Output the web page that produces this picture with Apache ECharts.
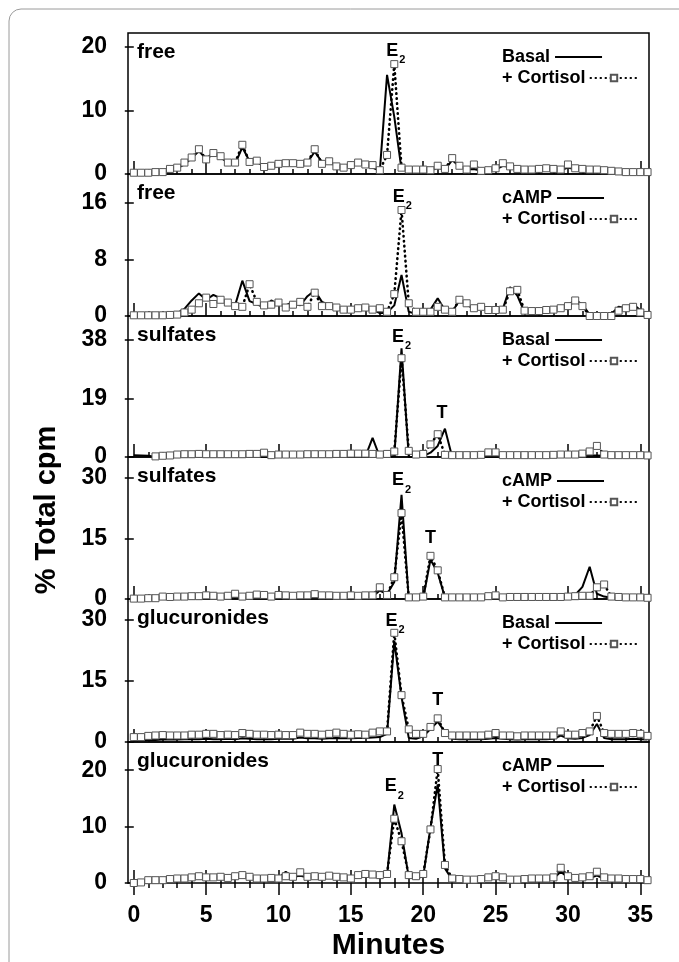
<!DOCTYPE html>
<html>
<head>
<meta charset="utf-8">
<title>Total cpm profiles</title>
<script src="https://cdn.jsdelivr.net/npm/echarts@6/dist/echarts.min.js"></script>
<style>
  html, body { margin: 0; padding: 0; background: #fff; }
  #main { width: 679px; height: 962px; }
</style>
</head>
<body>
<div id="main"></div>
<script type="text/javascript">
// fraction time (min), one sample every half minute
var minutes = [0, 0.5, 1, 1.5, 2, 2.5, 3, 3.5, 4, 4.5, 5, 5.5, 6, 6.5, 7, 7.5, 8, 8.5, 9, 9.5,
  10, 10.5, 11, 11.5, 12, 12.5, 13, 13.5, 14, 14.5, 15, 15.5, 16, 16.5, 17, 17.5, 18, 18.5, 19, 19.5,
  20, 20.5, 21, 21.5, 22, 22.5, 23, 23.5, 24, 24.5, 25, 25.5, 26, 26.5, 27, 27.5, 28, 28.5, 29, 29.5,
  30, 30.5, 31, 31.5, 32, 32.5, 33, 33.5, 34, 34.5, 35, 35.5];

// free - Basal / + Cortisol
var freeBasal = [0, 0, 0, 0.1, 0.2, 0.5, 0.9, 1.5, 2.5, 3.6,
  2.4, 3.3, 2.6, 1.8, 1.6, 4.2, 2.0, 1.9, 1.2, 1.4,
  1.5, 1.5, 1.6, 1.6, 1.8, 3.5, 1.9, 1.8, 1.3, 1.1,
  1.5, 1.6, 1.3, 1.0, 0.5, 15.6, 9.0, 0.7, 0.6, 0.5,
  0.6, 0.5, 1.0, 0.7, 2.2, 1.2, 0.7, 0.8, 0.5, 0.4,
  0.7, 1.3, 1.1, 0.8, 0.6, 0.6, 0.7, 0.8, 0.7, 0.6,
  1.0, 0.8, 0.7, 0.6, 0.6, 0.5, 0.4, 0.3, 0.3, 0.2,
  0.2, 0.2];
var freeBasalCort = [0.2, 0.2, 0.2, 0.3, 0.3, 0.8, 1.0, 1.8, 2.6, 3.9,
  2.3, 3.3, 2.8, 1.8, 1.8, 4.6, 1.9, 2.1, 1.1, 1.3,
  1.6, 1.7, 1.7, 1.6, 1.8, 3.9, 1.6, 2.0, 1.2, 1.0,
  1.4, 1.8, 1.5, 1.4, 0.6, 3.0, 17.3, 1.0, 0.7, 0.7,
  0.7, 0.6, 1.3, 0.8, 2.5, 1.3, 0.7, 1.5, 0.5, 0.6,
  0.9, 1.7, 1.2, 0.8, 0.7, 0.7, 0.8, 0.9, 0.8, 0.7,
  1.5, 0.9, 0.8, 0.7, 0.7, 0.6, 0.5, 0.4, 0.3, 0.3,
  0.3, 0.3];

// free - cAMP / + Cortisol
var freeCamp = [0, 0, 0, 0, 0, 0.1, 0.4, 1.0, 2.2, 3.2,
  2.3, 3.0, 2.5, 2.0, 1.5, 5.0, 2.1, 1.7, 1.2, 2.2,
  1.6, 1.5, 2.0, 1.5, 2.8, 3.6, 2.0, 1.6, 1.3, 1.1,
  1.0, 1.0, 1.0, 0.9, 0.4, 0.5, 1.5, 5.8, 0.6, 0.3,
  0.3, 0.9, 2.5, 0.8, 0.6, 2.2, 1.6, 1.0, 1.2, 0.8,
  0.7, 1.0, 4.1, 2.9, 0.5, 0.3, 0.4, 0.6, 0.8, 1.1,
  1.5, 2.3, 1.6, 0.2, 0, 0, 0.3, 1.3, 1.1, 1.7,
  0.8, 0.1];
var freeCampCort = [0.1, 0.1, 0.1, 0.1, 0.1, 0.15, 0.2, 0.5, 0.9, 1.8,
  2.6, 1.7, 2.3, 1.9, 1.4, 1.3, 4.5, 2.0, 1.5, 1.6,
  1.9, 1.2, 1.6, 2.0, 1.3, 3.3, 1.4, 1.4, 1.2, 0.9,
  0.9, 1.1, 1.2, 0.9, 1.1, 0.6, 3.1, 15.0, 1.8, 0.6,
  0.6, 0.6, 1.3, 0.9, 0.6, 2.3, 1.8, 1.1, 1.3, 0.85,
  0.85, 0.9, 3.5, 3.7, 0.75, 0.7, 0.7, 0.85, 0.9, 1.1,
  1.4, 2.2, 1.4, 0, 0, 0, 0, 0.75, 1.1, 1.3,
  0.5, 0.15];

// sulfates - Basal / + Cortisol
var sulfBasal = [0.6, 0.5, 0.4, 0.0, 0.0, 0.0, 0.1, 0.1, 0.1, 0.1,
  0.1, 0.1, 0.1, 0.1, 0.1, 0.1, 0.1, 0.1, 0.2, 0.1,
  0.1, 0.1, 0.1, 0.1, 0.1, 0.1, 0.1, 0.1, 0.1, 0.1,
  0.1, 0.1, 0.1, 6.2, 0.0, 0.0, 0.3, 35.3, 0.0, 0.0,
  0.3, 1.4, 3.6, 9.2, 0.0, 0.1, 0.1, 0.1, 0.1, 0.2,
  0.2, 0.1, 0.1, 0.1, 0.1, 0.1, 0.1, 0.1, 0.1, 0.2,
  0.3, 0.3, 0.3, 0.5, 0.5, 0.4, 0.2, 0.1, 0.1, 0.1,
  0.1, 0.1];
var sulfBasalCort = [null, null, null, 0.2, 0.4, 0.5, 0.8, 0.9, 0.9, 1.0,
  0.9, 0.9, 0.9, 0.9, 0.9, 0.9, 1.0, 1.0, 1.4, 0.6,
  0.8, 0.8, 0.8, 0.8, 0.9, 0.9, 0.9, 0.9, 1.0, 1.0,
  1.1, 1.1, 1.1, 1.0, 0.8, 1.0, 1.8, 32.1, 2.0, 0.8,
  1.0, 4.1, 7.4, 0.7, 0.6, 0.6, 0.6, 0.6, 0.7, 1.5,
  1.5, 0.6, 0.6, 0.6, 0.6, 0.6, 0.6, 0.6, 0.7, 0.8,
  0.8, 0.8, 1.1, 1.8, 3.6, 0.8, 0.6, 0.6, 0.6, 0.6,
  0.6, 0.5];

// sulfates - cAMP / + Cortisol
var sulfCamp = [0.1, 0.1, 0.1, 0.2, 0.3, 0.3, 0.3, 0.3, 0.4, 0.4,
  0.4, 0.4, 0.4, 0.4, 0.5, 0.4, 0.4, 0.5, 0.5, 0.4,
  0.4, 0.4, 0.4, 0.4, 0.4, 0.5, 0.5, 0.5, 0.5, 0.5,
  0.5, 0.5, 0.5, 0.6, 2.1, 1.2, 4.2, 25.8, 0.0, 0.0,
  0.2, 9.8, 6.5, 0.4, 0.2, 0.2, 0.2, 0.2, 0.2, 0.3,
  0.4, 0.3, 0.3, 0.3, 0.3, 0.3, 0.3, 0.3, 0.3, 0.3,
  0.4, 1.0, 3.0, 8.0, 1.3, 0.6, 0.3, 0.3, 0.3, 0.3,
  0.3, 0.2];
var sulfCampCort = [0.1, 0.1, 0.2, 0.2, 0.6, 0.5, 0.6, 0.6, 0.7, 0.7,
  0.9, 0.8, 0.6, 0.8, 1.3, 0.6, 0.8, 1.1, 1.0, 0.6,
  1.0, 0.9, 0.8, 0.9, 0.9, 1.2, 0.9, 0.9, 0.8, 0.8,
  0.9, 0.8, 0.9, 0.9, 2.9, 1.0, 5.4, 21.3, 0.4, 0.4,
  0.6, 10.7, 7.1, 0.4, 0.4, 0.4, 0.4, 0.4, 0.4, 0.7,
  0.9, 0.4, 0.5, 0.5, 0.5, 0.5, 0.5, 0.5, 0.5, 0.5,
  0.6, 0.7, 0.8, 0.8, 2.9, 3.6, 0.6, 0.5, 0.4, 0.4,
  0.4, 0.3];

// glucuronides - Basal / + Cortisol
var glucBasal = [0.3, 0.4, 0.5, 0.5, 0.6, 0.6, 0.6, 0.7, 0.7, 0.7,
  0.8, 0.7, 0.7, 0.8, 0.7, 0.9, 0.8, 0.7, 0.7, 0.7,
  0.8, 0.8, 0.8, 1.1, 0.9, 0.9, 0.8, 0.9, 1.0, 0.9,
  0.9, 1.0, 1.0, 1.1, 1.2, 2.0, 24.8, 11.0, 1.0, 0.8,
  1.4, 3.2, 5.0, 2.5, 0.8, 0.7, 0.7, 0.7, 0.7, 0.8,
  1.0, 0.8, 0.7, 0.6, 0.7, 0.7, 0.7, 0.7, 0.8, 1.6,
  0.9, 0.8, 1.0, 1.7, 4.4, 1.0, 0.7, 0.7, 0.7, 0.8,
  0.7, 0.6];
var glucBasalCort = [1.2, 1.2, 1.5, 1.6, 1.7, 1.6, 1.6, 1.6, 1.8, 1.8,
  2.0, 2.0, 1.7, 1.8, 1.7, 2.2, 2.0, 1.8, 1.8, 1.7,
  1.8, 1.7, 1.7, 2.3, 2.0, 2.0, 1.8, 2.0, 2.3, 2.0,
  1.8, 1.9, 1.8, 2.3, 2.6, 2.6, 26.8, 11.5, 3.1, 2.0,
  2.0, 3.7, 5.8, 2.2, 1.6, 1.6, 1.6, 1.6, 1.6, 1.8,
  2.2, 1.6, 1.6, 1.4, 1.6, 1.6, 1.6, 1.6, 1.6, 2.6,
  1.8, 1.8, 2.2, 2.6, 6.4, 2.2, 2.0, 2.0, 2.0, 2.2,
  2.0, 1.5];

// glucuronides - cAMP / + Cortisol
var glucCamp = [0.0, 0.1, 0.3, 0.3, 0.4, 0.5, 0.6, 0.6, 0.8, 0.9,
  0.8, 0.8, 0.9, 0.8, 0.9, 1.1, 0.9, 0.7, 0.7, 0.8,
  0.9, 2.0, 1.1, 1.3, 1.0, 1.0, 0.9, 1.0, 0.9, 0.8,
  0.7, 1.1, 1.3, 1.2, 1.1, 1.4, 13.9, 8.8, 1.0, 0.8,
  1.2, 9.8, 17.5, 2.6, 0.6, 0.5, 0.4, 0.4, 0.5, 0.8,
  1.0, 0.8, 0.5, 0.5, 0.6, 0.6, 0.6, 0.6, 0.8, 2.0,
  1.0, 0.7, 0.8, 0.9, 1.3, 0.8, 0.6, 0.6, 0.5, 0.5,
  0.5, 0.4];
var glucCampCort = [0.0, 0.1, 0.5, 0.5, 0.5, 0.7, 0.8, 0.8, 1.0, 1.2,
  1.0, 1.0, 1.1, 0.9, 1.2, 1.4, 1.1, 0.8, 0.8, 0.9,
  0.8, 1.2, 1.1, 1.9, 1.1, 1.2, 1.1, 1.3, 1.1, 1.0,
  0.8, 1.4, 1.6, 1.5, 1.4, 1.6, 11.4, 7.4, 1.4, 1.2,
  1.6, 9.5, 20.2, 3.2, 0.8, 0.7, 0.6, 0.6, 0.7, 1.0,
  1.2, 1.0, 0.6, 0.6, 0.7, 0.8, 0.8, 0.8, 1.0, 2.7,
  1.2, 0.9, 1.0, 1.2, 2.0, 1.0, 0.8, 0.8, 0.7, 0.7,
  0.7, 0.5];

// panel names, legend names, axis ranges and ticks
var panelNames = ['free', 'free', 'sulfates', 'sulfates', 'glucuronides', 'glucuronides'];
var controlNames = ['Basal', 'cAMP', 'Basal', 'cAMP', 'Basal', 'cAMP'];
var controlData = [freeBasal, freeCamp, sulfBasal, sulfCamp, glucBasal, glucCamp];
var cortisolData = [freeBasalCort, freeCampCort, sulfBasalCort, sulfCampCort, glucBasalCort, glucCampCort];
var yMax = [22.2, 20.1, 45.8, 35.2, 35.1, 25];
var yTicks = [[0, 10, 20], [0, 8, 16], [0, 19, 38], [0, 15, 30], [0, 15, 30], [0, 10, 20]];
var xMajorTicks = [0, 5, 10, 15, 20, 25, 30, 35];
var xMinorTicks = [0, 1, 2, 3, 4, 5, 6, 7, 8, 9, 10, 11, 12, 13, 14, 15, 16, 17,
  18, 19, 20, 21, 22, 23, 24, 25, 26, 27, 28, 29, 30, 31, 32, 33, 34, 35];

// peak annotations [name, minute, % total cpm]
var peakLabels = [
  [['E2', 18.1, 19.4]],
  [['E2', 18.55, 16.9]],
  [['E2', 18.5, 39.0], ['T', 21.3, 14.3]],
  [['E2', 18.5, 29.5], ['T', 20.5, 15.0]],
  [['E2', 18.05, 29.8], ['T', 21.0, 10.3]],
  [['E2', 18.0, 17.2], ['T', 21.0, 21.8]]
];

var FONT = '"Liberation Sans", Arial, Helvetica, sans-serif';
var panelEdges = [33, 174, 316, 457, 599, 742, 883];
var plotLeft = 128, plotRight = 30;

var myChart = echarts.init(document.getElementById('main'));

var grids = [], xAxes = [], yAxes = [], series = [], legends = [], graphics = [];

function pairs(arr) {
  return minutes.map(function (m, i) { return [m, arr[i]]; });
}

// every x axis sits on the bottom edge of its panel, several may share it
function tickAxis(g, ticks, len, inside) {
  return {
    type: 'value', gridIndex: g, position: 'bottom', min: -0.4, max: 35.6,
    axisLine: { show: false },
    splitLine: { show: false },
    axisLabel: { show: false },
    axisTick: { show: true, inside: inside, length: len, customValues: ticks,
      lineStyle: { color: '#000', width: 1.5 } }
  };
}

// one legend per row so the texts line up on the left
function legendRow(item, top) {
  return {
    data: [item], left: 497, top: top,
    itemWidth: 47, itemHeight: 8, align: 'right',
    selectedMode: false,
    textStyle: { fontSize: 18, fontWeight: 'bold', color: '#000', fontFamily: FONT, lineHeight: 18 }
  };
}

for (var g = 0; g < 6; g++) {
  var panelTop = panelEdges[g];
  grids.push({
    left: plotLeft, right: plotRight, top: panelTop, height: panelEdges[g + 1] - panelTop,
    show: true, borderColor: '#000', borderWidth: 1.5
  });

  xAxes.push(tickAxis(g, xMajorTicks, 13, true), tickAxis(g, xMinorTicks, 5, true));

  yAxes.push({
    type: 'value', gridIndex: g, min: 0, max: yMax[g],
    axisLine: { show: false },
    splitLine: { show: false },
    axisTick: { show: true, inside: false, length: 9, customValues: yTicks[g],
      lineStyle: { color: '#000', width: 1.5 } },
    axisLabel: { customValues: yTicks[g], fontSize: 23, fontWeight: 'bold', color: '#000',
      fontFamily: FONT, margin: 21 }
  });

  var xi = xAxes.length - 2;

  series.push({
    name: controlNames[g], type: 'line', xAxisIndex: xi, yAxisIndex: g,
    data: pairs(controlData[g]), symbol: 'none', connectNulls: false,
    lineStyle: { color: '#000', width: 2 },
    itemStyle: { color: '#000' },
    z: 2
  });

  series.push({
    name: '+ Cortisol', type: 'line', xAxisIndex: xi, yAxisIndex: g,
    data: pairs(cortisolData[g]), symbol: 'rect', symbolSize: 7, connectNulls: false,
    lineStyle: { color: '#000', width: 2.6, type: [0.5, 4.5], cap: 'round' },
    itemStyle: { color: '#fff', borderColor: '#555', borderWidth: 1 },
    z: 3,
    markPoint: {
      symbol: 'rect', symbolSize: 1, itemStyle: { color: 'rgba(0,0,0,0)' },
      data: peakLabels[g].map(function (p) {
        return { name: p[0], coord: [p[1], p[2]] };
      }),
      label: {
        show: true, position: 'inside', color: '#000',
        formatter: function (p) { return p.name === 'E2' ? '{e|E}{s|2}' : '{e|T}'; },
        rich: {
          e: { fontSize: 18, fontWeight: 'bold', fontFamily: FONT, color: '#000', lineHeight: 18, verticalAlign: 'top' },
          s: { fontSize: 11, fontWeight: 'bold', fontFamily: FONT, color: '#000', lineHeight: 11, verticalAlign: 'top', padding: [13, 0, 0, 1] }
        }
      }
    }
  });

  legends.push(legendRow({ name: controlNames[g], icon: 'path://M0,0H47V2H0Z' }, panelTop + 10));
  legends.push(legendRow({ name: '+ Cortisol' }, panelTop + 31));

  graphics.push({
    type: 'text', x: 137, y: panelTop + 19,
    style: { text: panelNames[g], font: 'bold 21px ' + FONT, fill: '#000', textVerticalAlign: 'middle' }
  });
}

// last panel: ticks also point outward, plus the tick labels and title
var xOutMaj = tickAxis(5, xMajorTicks, 12, false);
xOutMaj.axisLabel = { show: true, customValues: xMajorTicks, fontSize: 23, fontWeight: 'bold',
  color: '#000', fontFamily: FONT, margin: 21 };
xOutMaj.name = 'Minutes';
xOutMaj.nameLocation = 'middle';
xOutMaj.nameGap = 48;
xOutMaj.nameTextStyle = { fontSize: 30, fontWeight: 'bold', color: '#000', fontFamily: FONT };
xAxes.push(xOutMaj, tickAxis(5, xMinorTicks, 5, false));

graphics.push({
  type: 'rect', silent: true, z: -1,
  shape: { x: 9, y: 9, width: 720, height: 1000, r: 12 },
  style: { fill: 'none', stroke: '#9a9a9a', lineWidth: 1 }
});
graphics.push({
  type: 'text', x: 47, y: 510, rotation: Math.PI / 2,
  style: { text: '% Total cpm', font: 'bold 29px ' + FONT, fill: '#000',
    textAlign: 'center', textVerticalAlign: 'middle' }
});

var option = {
  backgroundColor: '#fff',
  animation: false,
  grid: grids,
  xAxis: xAxes,
  yAxis: yAxes,
  legend: legends,
  graphic: graphics,
  series: series
};

myChart.setOption(option);
</script>
</body>
</html>
